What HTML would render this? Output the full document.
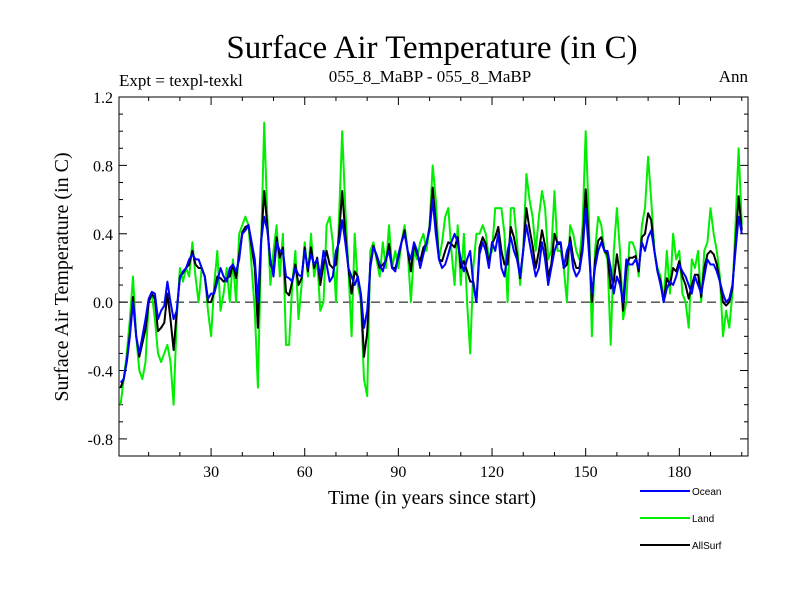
<!DOCTYPE html>
<html><head><meta charset="utf-8"><style>
body{margin:0;background:#fff;}
svg{display:block;font-family:"Liberation Serif",serif;}
</style></head><body>
<svg id="chart" width="800" height="600">
<text x="432" y="58" font-size="33" text-anchor="middle">Surface Air Temperature (in C)</text>
<text x="119" y="86" font-size="17">Expt = texpl-texkl</text>
<text x="430" y="82" font-size="17" text-anchor="middle">055_8_MaBP - 055_8_MaBP</text>
<text x="748" y="82" font-size="17" text-anchor="end">Ann</text>
<text transform="translate(68,277) rotate(-90)" font-size="20" text-anchor="middle">Surface Air Temperature (in C)</text>
<text x="432" y="504" font-size="20" text-anchor="middle">Time (in years since start)</text>
<g id="ticks"></g>
<g id="series"></g>
<rect x="119" y="97" width="629" height="359" fill="none" stroke="#000" stroke-width="1"/>
<g font-family="Liberation Sans,sans-serif" font-size="10">
<line x1="640" y1="491" x2="690" y2="491" stroke="#0000ff" stroke-width="2"/>
<text x="692" y="495">Ocean</text>
<line x1="640" y1="518" x2="690" y2="518" stroke="#00ee00" stroke-width="2"/>
<text x="692" y="522">Land</text>
<line x1="640" y1="545" x2="690" y2="545" stroke="#000" stroke-width="2"/>
<text x="692" y="549">AllSurf</text>
</g>
</svg>
<script>
const ocean=[-0.47,-0.45,-0.35,-0.2,0.0,-0.2,-0.3,-0.2,-0.1,0.02,
0.06,0.05,-0.1,-0.05,-0.02,0.12,0.0,-0.1,-0.05,0.14,
0.18,0.2,0.25,0.28,0.25,0.25,0.2,0.15,0.02,0.05,
0.05,0.12,0.2,0.15,0.12,0.2,0.22,0.18,0.25,0.4,
0.42,0.45,0.35,0.25,0.0,0.35,0.5,0.42,0.25,0.15,
0.35,0.3,0.3,0.15,0.14,0.12,0.2,0.16,0.15,0.3,
0.2,0.28,0.22,0.25,0.15,0.3,0.22,0.12,0.15,0.3,
0.35,0.48,0.35,0.2,0.15,0.1,0.15,0.05,-0.15,-0.05,
0.2,0.32,0.28,0.22,0.18,0.25,0.3,0.2,0.18,0.28,
0.35,0.4,0.3,0.25,0.35,0.3,0.2,0.28,0.35,0.42,
0.6,0.4,0.25,0.2,0.22,0.28,0.35,0.4,0.35,0.25,
0.18,0.25,0.3,0.1,0.0,0.28,0.35,0.3,0.2,0.35,
0.3,0.4,0.2,0.15,0.3,0.38,0.3,0.25,0.15,0.3,
0.45,0.35,0.25,0.15,0.2,0.35,0.25,0.1,0.2,0.3,
0.35,0.35,0.2,0.3,0.35,0.2,0.15,0.18,0.3,0.55,
0.3,0.05,0.2,0.3,0.35,0.3,0.3,0.2,0.05,0.15,
0.1,0.0,0.25,0.22,0.22,0.25,0.2,0.35,0.3,0.38,
0.42,0.3,0.18,0.1,0.0,0.08,0.12,0.1,0.15,0.22,
0.18,0.15,0.1,0.05,0.15,0.1,0.05,0.15,0.25,0.22,
0.22,0.18,0.12,0.05,0.0,0.02,0.1,0.3,0.5,0.4];
const land=[-0.6,-0.45,-0.3,-0.1,0.15,-0.2,-0.4,-0.45,-0.35,0.0,
0.05,-0.1,-0.3,-0.35,-0.3,-0.25,-0.35,-0.6,-0.1,0.2,
0.12,0.2,0.15,0.35,0.15,0.0,0.2,0.15,-0.05,-0.2,
0.1,0.3,-0.05,0.05,0.2,0.0,0.25,0.0,0.4,0.45,
0.5,0.45,0.2,-0.05,-0.5,0.3,1.05,0.5,0.1,0.3,
0.45,0.15,0.4,-0.25,-0.25,0.1,0.3,-0.1,0.1,0.35,
0.15,0.4,0.15,0.25,-0.05,0.0,0.45,0.5,0.35,0.0,
0.5,1.0,0.55,0.2,-0.2,0.4,0.1,0.0,-0.45,-0.55,
0.3,0.35,0.25,0.15,0.35,0.2,0.45,0.2,0.3,0.2,
0.35,0.45,0.3,0.0,0.3,0.25,0.35,0.4,0.3,0.45,
0.8,0.6,0.25,0.35,0.5,0.55,0.3,0.1,0.45,0.1,
0.4,0.0,-0.3,0.2,0.4,0.4,0.45,0.4,0.25,0.3,
0.55,0.55,0.55,0.4,0.0,0.55,0.55,0.35,0.1,0.3,
0.75,0.6,0.5,0.3,0.5,0.65,0.55,0.25,0.3,0.65,
0.3,0.3,0.2,0.0,0.45,0.4,0.3,0.25,0.45,1.0,
0.5,-0.2,0.3,0.5,0.45,0.3,0.25,-0.25,0.3,0.55,
0.3,-0.1,0.0,0.35,0.35,0.3,0.15,0.45,0.55,0.85,
0.6,0.3,0.2,0.15,0.0,0.3,0.05,0.4,0.25,0.3,
0.05,0.0,-0.15,0.25,0.2,0.3,0.0,0.3,0.35,0.55,
0.4,0.3,0.15,-0.2,-0.05,-0.15,0.05,0.45,0.9,0.45];
const allsurf=[-0.5,-0.45,-0.34,-0.18,0.03,-0.2,-0.32,-0.24,-0.16,0.0,
0.05,0.02,-0.17,-0.15,-0.12,0.05,-0.1,-0.28,-0.06,0.15,
0.17,0.2,0.22,0.3,0.22,0.2,0.2,0.15,0.0,0.0,
0.06,0.15,0.14,0.12,0.14,0.15,0.22,0.14,0.28,0.41,
0.44,0.45,0.32,0.2,-0.15,0.34,0.65,0.45,0.22,0.18,
0.38,0.26,0.32,0.06,0.04,0.12,0.22,0.1,0.14,0.32,
0.18,0.32,0.2,0.26,0.1,0.22,0.3,0.22,0.2,0.22,
0.4,0.65,0.4,0.2,0.05,0.18,0.15,0.04,-0.32,-0.18,
0.22,0.33,0.27,0.2,0.22,0.24,0.34,0.2,0.2,0.26,
0.35,0.42,0.3,0.18,0.34,0.28,0.24,0.32,0.34,0.44,
0.67,0.46,0.25,0.24,0.3,0.35,0.34,0.32,0.38,0.2,
0.24,0.18,0.12,0.12,0.0,0.32,0.38,0.34,0.22,0.34,
0.38,0.44,0.3,0.22,0.22,0.44,0.38,0.28,0.14,0.3,
0.55,0.43,0.33,0.2,0.3,0.42,0.33,0.15,0.22,0.4,
0.34,0.34,0.2,0.22,0.38,0.26,0.2,0.2,0.34,0.66,
0.36,0.0,0.24,0.36,0.38,0.3,0.28,0.08,0.12,0.28,
0.16,-0.05,0.2,0.26,0.26,0.27,0.18,0.38,0.4,0.52,
0.48,0.3,0.18,0.12,0.0,0.14,0.1,0.2,0.18,0.24,
0.15,0.1,0.02,0.1,0.16,0.16,0.03,0.2,0.28,0.3,
0.28,0.22,0.12,0.0,-0.02,0.0,0.08,0.34,0.62,0.42];
const yTickLabels=["-0.8","-0.4","0.0","0.4","0.8","1.2"];
const xTickLabels=["30","60","90","120","150","180"];
const L=119,R=748,T=97,B=456,XMIN=0.5,XMAX=202,YMIN=-0.9,YMAX=1.2;
const NS="http://www.w3.org/2000/svg";
function xs(v){return L+(v-XMIN)/(XMAX-XMIN)*(R-L);}
function ys(v){return B-(v-YMIN)/(YMAX-YMIN)*(B-T);}
const tk=document.getElementById('ticks');
function ln(x1,y1,x2,y2,st,w){const l=document.createElementNS(NS,'line');l.setAttribute('x1',x1);l.setAttribute('y1',y1);l.setAttribute('x2',x2);l.setAttribute('y2',y2);l.setAttribute('stroke',st);l.setAttribute('stroke-width',w||1);return l;}
for(let k=-9;k<=12;k++){const v=k/10,y=ys(v),len=(k%4===0)?8:4;
const a=ln(L,y,L+len,y,'#000');tk.appendChild(a);
const b=ln(R-len,y,R,y,'#000');tk.appendChild(b);}
yTickLabels.forEach(s=>{const t=document.createElementNS(NS,'text');t.setAttribute('x',L-6);t.setAttribute('y',ys(parseFloat(s))+6);t.setAttribute('text-anchor','end');t.setAttribute('font-size','16');t.textContent=s;


tk.appendChild(t);});
for(let v=10;v<=200;v+=10){const x=xs(v),len=(v%30===0)?8:4;
const a=ln(x,B,x,B-len,'#000');tk.appendChild(a);
const b=ln(x,T,x,T+len,'#000');tk.appendChild(b);}
xTickLabels.forEach(s=>{const t=document.createElementNS(NS,'text');t.setAttribute('x',xs(parseFloat(s)));t.setAttribute('y',B+21);t.setAttribute('text-anchor','middle');t.setAttribute('font-size','16');t.textContent=s;


tk.appendChild(t);});
const z=ln(L,ys(0),R,ys(0),'#000');z.setAttribute('stroke-dasharray','9,5');


tk.appendChild(z);
const sg=document.getElementById('series');
function draw(arr,col,name){const p=document.createElementNS(NS,'polyline');
p.setAttribute('points',arr.map((v,i)=>xs(i+1).toFixed(1)+','+ys(v).toFixed(1)).join(' '));
p.setAttribute('fill','none');p.setAttribute('stroke',col);p.setAttribute('stroke-width','2');p.setAttribute('stroke-linejoin','round');


sg.appendChild(p);}
draw(land,'#00ee00','land-line');
draw(allsurf,'#000000','allsurf-line');
draw(ocean,'#0000ff','ocean-line');
</script>
</body></html>
